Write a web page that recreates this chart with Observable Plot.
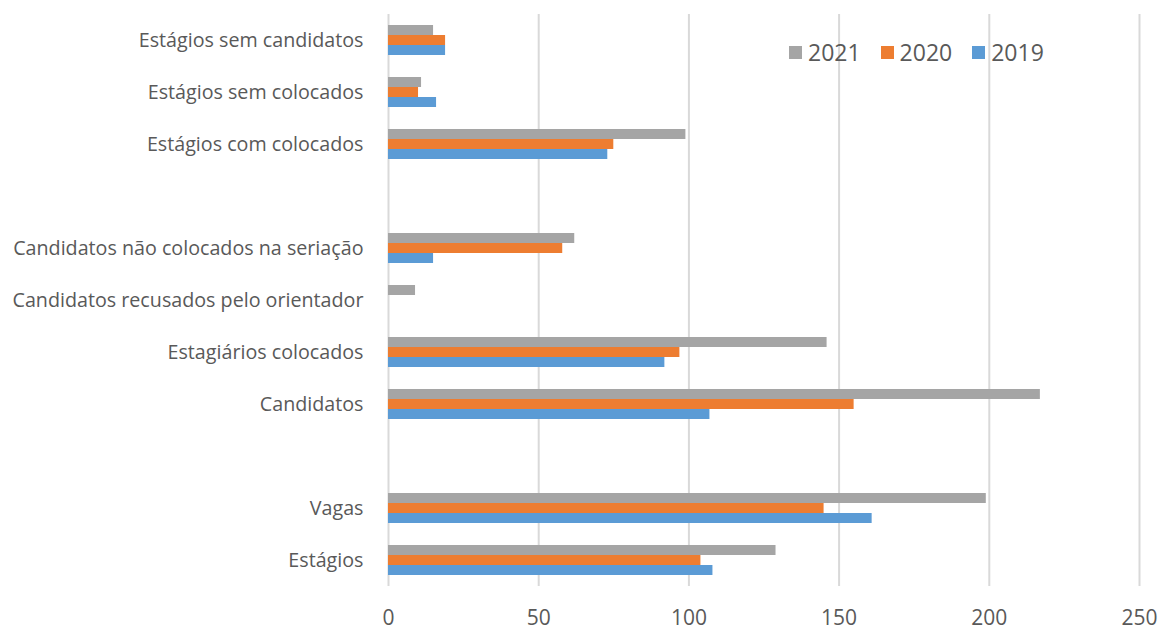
<!DOCTYPE html>
<html>
<head>
<meta charset="utf-8">
<script src="https://cdn.jsdelivr.net/npm/d3@7"></script>
<script src="https://cdn.jsdelivr.net/npm/@observablehq/plot@0.6"></script>
<style>
  body { margin: 0; background: #fff; }
  #wrap { position: relative; width: 1161px; height: 630px; font-family: "Open Sans", sans-serif; }
  #legend { position: absolute; left: 789px; top: 36px; display: flex; align-items: center; font-size: 23px; color: #595959; }
  #legend .item { display: flex; align-items: center; margin-right: 20px; }
  #legend .sw { width: 13px; height: 13px; margin-right: 6px; }
</style>
</head>
<body>
<div id="wrap"><div id="legend"></div></div>
<script>
const categories = [
  "Estágios sem candidatos",
  "Estágios sem colocados",
  "Estágios com colocados",
  " ",
  "Candidatos não colocados na seriação",
  "Candidatos recusados pelo orientador",
  "Estagiários colocados",
  "Candidatos",
  "  ",
  "Vagas",
  "Estágios"
];
const years = ["2021", "2020", "2019"];
const colors = ["#A5A5A5", "#ED7D31", "#5B9BD5"];
const values2021 = [15, 11, 99, null, 62, 9, 146, 217, null, 199, 129];
const values2020 = [19, 10, 75, null, 58, 0, 97, 155, null, 145, 104];
const values2019 = [19, 16, 73, null, 15, 0, 92, 107, null, 161, 108];
const xTicks = [0, 50, 100, 150, 200, 250];

const series = {"2021": values2021, "2020": values2020, "2019": values2019};
const data = [];
categories.forEach((c, i) => {
  years.forEach(y => {
    const v = series[y][i];
    if (v !== null) data.push({category: c, year: y, value: v});
  });
});
const gridData = categories.flatMap(c => xTicks.map(t => ({category: c, tick: t})));

const chart = Plot.plot({
  width: 1161,
  height: 630,
  marginTop: 14,
  marginBottom: 44,
  marginLeft: 388,
  marginRight: 22,
  style: {fontFamily: "'Open Sans', sans-serif", color: "#595959", background: "transparent"},
  x: {domain: [0, 250], axis: null},
  y: {domain: years, paddingInner: 0, paddingOuter: 1.1, axis: null},
  fy: {domain: categories, padding: 0, axis: null},
  color: {domain: years, range: colors},
  marks: [
    Plot.gridX(gridData, {x: "tick", fy: "category", stroke: "#D9D9D9", strokeOpacity: 1, strokeWidth: 2}),
    Plot.barX(data, {x: "value", y: "year", fy: "category", fill: "year"}),
    Plot.axisX(xTicks, {facetAnchor: "bottom", tickSize: 0, tickPadding: 24, fontSize: 21, fill: "#595959", label: null}),
    Plot.axisFy({anchor: "left", tickSize: 0, tickPadding: 25, fontSize: 19.7, fill: "#595959", label: null})
  ]
});
document.getElementById("wrap").prepend(chart);

const legend = document.getElementById("legend");
years.forEach((y, i) => {
  const item = document.createElement("div");
  item.className = "item";
  const sw = document.createElement("div");
  sw.className = "sw";
  sw.style.background = colors[i];
  const t = document.createElement("span");
  t.textContent = y;
  item.appendChild(sw);
  item.appendChild(t);
  legend.appendChild(item);
});
</script>
</body>
</html>
